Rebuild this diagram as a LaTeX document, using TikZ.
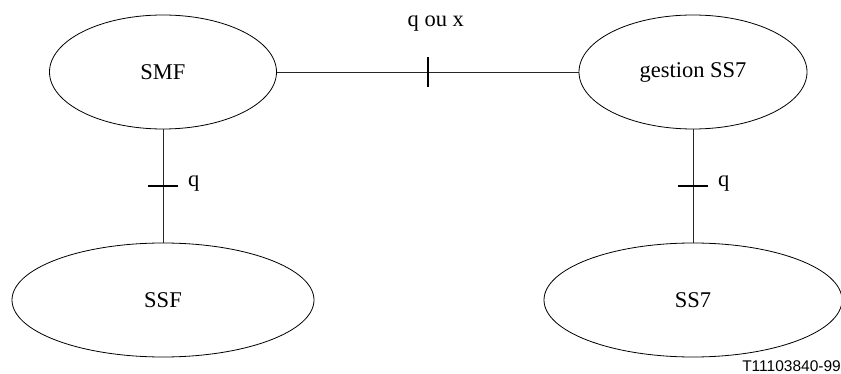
\documentclass[tikz,border=0pt]{standalone}
\usepackage{fontspec}
\setmainfont{Liberation Serif}
\newfontfamily\footfont{Liberation Sans}
\usetikzlibrary{shapes.geometric,calc}
\begin{document}
\begin{tikzpicture}[x=1pt,y=-1pt,
  ent/.style={draw=black,line width=0.8pt,ellipse,inner sep=0pt,font=\fontsize{22.5}{27}\selectfont},
  conn/.style={draw=black!85,line width=0.9pt},
  tickmark/.style={draw=black,line width=1.8pt},
  lbl/.style={font=\fontsize{22.5}{27}\selectfont,inner sep=0pt}]
\useasboundingbox (0,0) rectangle (841,374);
\node[ent,minimum width=227pt,minimum height=114pt] (smf) at (163,72) {SMF};
\node[ent,minimum width=302pt,minimum height=114pt] (ssf) at (163,300) {SSF};
\node[ent,minimum width=228pt,minimum height=114pt] (gss) at (693,72) {gestion SS7};
\node[ent,minimum width=298pt,minimum height=114pt] (ss7) at (693,300) {SS7};
\draw[conn] (smf.east) -- coordinate[pos=0.5] (m1) (gss.west);
\draw[conn] (smf.south) -- coordinate[pos=0.5] (m2) (ssf.north);
\draw[conn] (gss.south) -- coordinate[pos=0.5] (m3) (ss7.north);
\draw[tickmark] (m1) ++(0,-15) -- ++(0,30);
\draw[tickmark] (m2) ++(-15,0) -- ++(30,0);
\draw[tickmark] (m3) ++(-15,0) -- ++(30,0);
\node[lbl,anchor=base] (lqx) at ($(m1)+(8,-45)$) {q ou x};
\node[lbl,anchor=base west] (lq1) at ($(m2)+(25,1)$) {q};
\node[lbl,anchor=base west] (lq2) at ($(m3)+(25,1)$) {q};
\node[anchor=base east,inner sep=0pt,font=\footfont\fontsize{15.5}{18}\selectfont] (ref) at (841,371) {T11103840-99};
\end{tikzpicture}
\end{document}
